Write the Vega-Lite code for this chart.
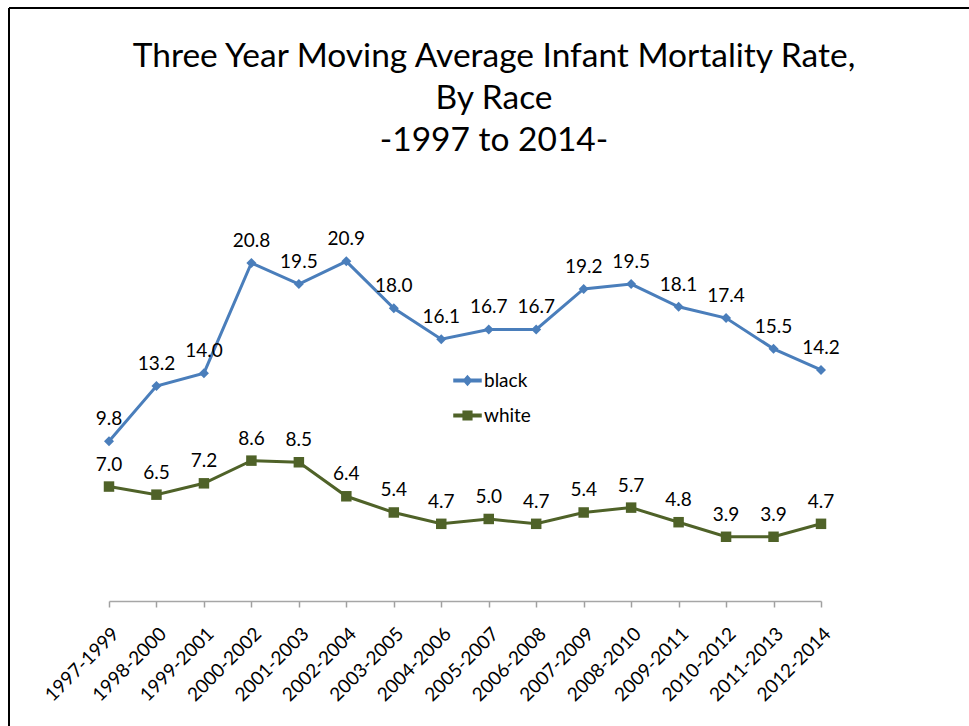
{
  "$schema": "https://vega.github.io/schema/vega-lite/v6.json",
  "width": 960,
  "height": 718,
  "autosize": {"type": "none"},
  "padding": {"left": 9, "top": 8, "right": 0, "bottom": 0},
  "background": "white",
  "title": {
    "text": ["Three Year Moving Average Infant Mortality Rate,", "By Race", "-1997 to 2014-"],
    "anchor": "middle",
    "frame": "group",
    "font": "Lato",
    "fontSize": 33.5,
    "fontWeight": "normal",
    "color": "black",
    "lineHeight": 42,
    "offset": -150,
    "dx": 5
  },
  "config": {
    "view": {"stroke": "black", "strokeWidth": 2, "strokeDash": [960, 1678, 718, 0]},
    "font": "Lato"
  },
  "data": {
    "values": [
      {"period": "1997-1999", "race": "black", "rate": 9.8},
      {"period": "1998-2000", "race": "black", "rate": 13.2},
      {"period": "1999-2001", "race": "black", "rate": 14.0},
      {"period": "2000-2002", "race": "black", "rate": 20.8},
      {"period": "2001-2003", "race": "black", "rate": 19.5},
      {"period": "2002-2004", "race": "black", "rate": 20.9},
      {"period": "2003-2005", "race": "black", "rate": 18.0},
      {"period": "2004-2006", "race": "black", "rate": 16.1},
      {"period": "2005-2007", "race": "black", "rate": 16.7},
      {"period": "2006-2008", "race": "black", "rate": 16.7},
      {"period": "2007-2009", "race": "black", "rate": 19.2},
      {"period": "2008-2010", "race": "black", "rate": 19.5},
      {"period": "2009-2011", "race": "black", "rate": 18.1},
      {"period": "2010-2012", "race": "black", "rate": 17.4},
      {"period": "2011-2013", "race": "black", "rate": 15.5},
      {"period": "2012-2014", "race": "black", "rate": 14.2},
      {"period": "1997-1999", "race": "white", "rate": 7.0},
      {"period": "1998-2000", "race": "white", "rate": 6.5},
      {"period": "1999-2001", "race": "white", "rate": 7.2},
      {"period": "2000-2002", "race": "white", "rate": 8.6},
      {"period": "2001-2003", "race": "white", "rate": 8.5},
      {"period": "2002-2004", "race": "white", "rate": 6.4},
      {"period": "2003-2005", "race": "white", "rate": 5.4},
      {"period": "2004-2006", "race": "white", "rate": 4.7},
      {"period": "2005-2007", "race": "white", "rate": 5.0},
      {"period": "2006-2008", "race": "white", "rate": 4.7},
      {"period": "2007-2009", "race": "white", "rate": 5.4},
      {"period": "2008-2010", "race": "white", "rate": 5.7},
      {"period": "2009-2011", "race": "white", "rate": 4.8},
      {"period": "2010-2012", "race": "white", "rate": 3.9},
      {"period": "2011-2013", "race": "white", "rate": 3.9},
      {"period": "2012-2014", "race": "white", "rate": 4.7}
    ]
  },
  "layer": [
    {
      "mark": {"type": "point", "filled": true, "opacity": 0, "size": 729},
      "encoding": {
        "x": {
          "field": "period",
          "type": "nominal",
          "scale": {"type": "point", "padding": 0, "range": [100, 812]},
          "axis": {
            "title": null,
            "domain": true,
            "domainColor": "#a6a6a6",
            "domainWidth": 1.5,
            "grid": false,
            "ticks": true,
            "tickColor": "#a0a0a0",
            "tickSize": 6,
            "tickWidth": 1.5,
            "labelAngle": -45,
            "labelFont": "Lato",
            "labelFontSize": 19,
            "labelColor": "black",
            "labelPadding": 17,
            "labelOverlap": false,
            "labelBound": false,
            "offset": -125
          }
        },
        "y": {
          "field": "rate",
          "type": "quantitative",
          "scale": {"domain": [-7.78, 36.54], "nice": false, "zero": false},
          "axis": null
        },
        "fill": {
          "field": "race",
          "type": "nominal",
          "scale": {"domain": ["black", "white"], "range": ["#4a7ebb", "#4f6228"]},
          "legend": {
            "title": null,
            "orient": "none",
            "legendX": 444,
            "legendY": 358,
            "padding": 0,
            "labelFont": "Lato",
            "labelFontSize": 19,
            "labelColor": "black",
            "labelOffset": 2,
            "symbolSize": 729,
            "symbolOpacity": 1,
            "rowPadding": 10
          }
        },
        "shape": {
          "field": "race",
          "type": "nominal",
          "scale": {"domain": ["black", "white"], "range": ["M-1,-0.09H1V0.09H-1ZM0,-0.34L0.3,0L0,0.34L-0.3,0Z", "M-1,-0.09H1V0.09H-1ZM-0.32,-0.32H0.32V0.32H-0.32Z"]},
          "legend": {
            "title": null,
            "orient": "none",
            "legendX": 444,
            "legendY": 358,
            "padding": 0,
            "labelFont": "Lato",
            "labelFontSize": 19,
            "labelColor": "black",
            "labelOffset": 2,
            "symbolSize": 729,
            "symbolOpacity": 1,
            "rowPadding": 10
          }
        }
      }
    },
    {
      "mark": {"type": "line", "strokeWidth": 3},
      "encoding": {
        "x": {"field": "period", "type": "nominal"},
        "y": {"field": "rate", "type": "quantitative"},
        "color": {
          "field": "race",
          "type": "nominal",
          "scale": {"domain": ["black", "white"], "range": ["#4a7ebb", "#4f6228"]},
          "legend": null
        }
      }
    },
    {
      "transform": [{"filter": "datum.race === 'black'"}],
      "mark": {"type": "point", "filled": true, "opacity": 1, "shape": "diamond", "size": 100},
      "encoding": {
        "x": {"field": "period", "type": "nominal"},
        "y": {"field": "rate", "type": "quantitative"},
        "color": {"field": "race", "type": "nominal", "legend": null}
      }
    },
    {
      "transform": [{"filter": "datum.race === 'white'"}],
      "mark": {"type": "point", "filled": true, "opacity": 1, "shape": "square", "size": 110},
      "encoding": {
        "x": {"field": "period", "type": "nominal"},
        "y": {"field": "rate", "type": "quantitative"},
        "color": {"field": "race", "type": "nominal", "legend": null}
      }
    },
    {
      "mark": {"type": "text", "fontSize": 19, "font": "Lato", "baseline": "alphabetic", "dy": -16, "color": "black"},
      "encoding": {
        "x": {"field": "period", "type": "nominal"},
        "y": {"field": "rate", "type": "quantitative"},
        "text": {"field": "rate", "type": "quantitative", "format": ".1f"}
      }
    }
  ]
}
